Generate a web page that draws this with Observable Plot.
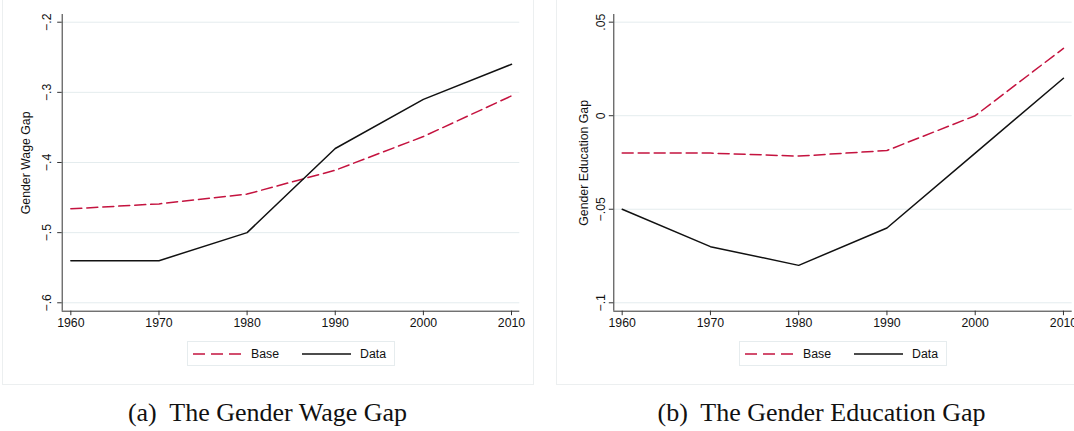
<!DOCTYPE html>
<html>
<head>
<meta charset="utf-8">
<script src="https://cdn.jsdelivr.net/npm/d3@7"></script>
<script src="https://cdn.jsdelivr.net/npm/@observablehq/plot@0.6"></script>
<style>
  html, body { margin: 0; padding: 0; background: #fff; }
  body { position: relative; width: 1074px; height: 431px; overflow: hidden; font-family: "Liberation Sans", Arial, sans-serif; }
  .panel { position: absolute; box-sizing: border-box; border: 1px solid #eceff0; }
  .chart { position: absolute; top: 0; width: 531px; height: 336px; }
  .chart svg { max-width: none !important; }
  .legend { position: absolute; box-sizing: border-box; border: 1px solid #e6ecee; width: 208px; height: 25px; top: 341px; }
  .legend svg { position: absolute; left: 0; top: 0; }
  .caption { position: absolute; top: 400px; width: 531px; text-align: center; font-family: "Liberation Serif", "Times New Roman", serif; font-size: 26px; line-height: 26px; color: #111; white-space: pre; }
</style>
</head>
<body>
<div class="panel" style="left:2px; top:-2px; width:532px; height:387px;"></div>
<div class="panel" style="left:556px; top:-2px; width:540px; height:387px;"></div>
<div id="chartA" class="chart" style="left:2px;"></div>
<div id="chartB" class="chart" style="left:556px;"></div>
<div id="legA" class="legend" style="left:187px;"></div>
<div id="legB" class="legend" style="left:739px;"></div>
<div class="caption" style="left:2px;">(a)  The Gender Wage Gap</div>
<div class="caption" style="left:556px;">(b)  The Gender Education Gap</div>
<script>
// ---- data ----
const years = [1960, 1970, 1980, 1990, 2000, 2010];
const wageBase = [-0.466, -0.459, -0.445, -0.411, -0.363, -0.305];
const wageData = [-0.54, -0.54, -0.50, -0.38, -0.31, -0.26];
const eduBase = [-0.020, -0.020, -0.0216, -0.0186, 0.0, 0.036];
const eduData = [-0.05, -0.07, -0.08, -0.06, -0.02, 0.02];
const wageTicks = [-0.6, -0.5, -0.4, -0.3, -0.2];
const eduTicks = [-0.1, -0.05, 0, 0.05];
const seriesNames = ["Base", "Data"];
const titleA = "Gender Wage Gap";
const titleB = "Gender Education Gap";

const RED = "#c4133f";
const BLACK = "#111111";
const GRID = "#e4ecee";
const AXIS = "#333333";

const stataFmt = d => {
  if (d === 0) return "0";
  const s = String(Math.abs(d)).replace(/^0\./, ".");
  return (d < 0 ? "\u2212" : "") + s;
};

function makeChart({base, data, ticks, yDomain, xDomain, title, marginLeft, marginRight, labelOffset, tickPadding}) {
  const rows = (vals, name) => years.map((yr, i) => ({year: yr, value: vals[i], series: name}));
  return Plot.plot({
    width: 531,
    height: 336,
    marginTop: 14,
    marginBottom: 25.3,
    marginLeft,
    marginRight,
    style: {fontFamily: "'Liberation Sans', Arial, sans-serif", fontSize: "12.3px", color: "#111", background: "transparent", overflow: "visible", maxWidth: "none"},
    x: {domain: xDomain, label: null},
    y: {domain: yDomain, label: null},
    marks: [
      Plot.gridY(ticks, {stroke: GRID, strokeOpacity: 1, strokeWidth: 1}),
      Plot.ruleX([xDomain[0]], {stroke: AXIS, strokeWidth: 1}),
      Plot.ruleY([yDomain[0]], {stroke: AXIS, strokeWidth: 1}),
      Plot.axisX({ticks: years, tickSize: 4.5, tickPadding: 3, tickFormat: d => String(d), label: null, stroke: AXIS}),
      Plot.axisY({ticks, tickSize: 4.5, tickRotate: -90, tickPadding, tickFormat: stataFmt, stroke: AXIS,
        label: title, labelAnchor: "center", labelOffset, labelArrow: "none"}),
      Plot.line(rows(base, seriesNames[0]), {x: "year", y: "value", stroke: RED, strokeWidth: 1.5, strokeDasharray: "11,5"}),
      Plot.line(rows(data, seriesNames[1]), {x: "year", y: "value", stroke: BLACK, strokeWidth: 1.5})
    ]
  });
}

document.getElementById("chartA").appendChild(makeChart({
  base: wageBase, data: wageData, ticks: wageTicks,
  yDomain: [-0.612, -0.189], xDomain: [1959.02, 2010.94],
  title: titleA, marginLeft: 59.7, marginRight: 13.7, labelOffset: 41, tickPadding: 7
}));
document.getElementById("chartB").appendChild(makeChart({
  base: eduBase, data: eduData, ticks: eduTicks,
  yDomain: [-0.1045, 0.0541], xDomain: [1959.05, 2010.99],
  title: titleB, marginLeft: 57.3, marginRight: 15.3, labelOffset: 35, tickPadding: 4
}));

function legend(el) {
  const ns = "http://www.w3.org/2000/svg";
  const svg = document.createElementNS(ns, "svg");
  svg.setAttribute("width", 208); svg.setAttribute("height", 25);
  const items = [
    {name: seriesNames[0], color: RED, dash: "12,6", x1: 5, x2: 54, tx: 63},
    {name: seriesNames[1], color: BLACK, dash: null, x1: 114, x2: 163, tx: 172}
  ];
  for (const it of items) {
    const l = document.createElementNS(ns, "line");
    l.setAttribute("x1", it.x1); l.setAttribute("x2", it.x2);
    l.setAttribute("y1", 12); l.setAttribute("y2", 12);
    l.setAttribute("stroke", it.color); l.setAttribute("stroke-width", 1.5);
    if (it.dash) l.setAttribute("stroke-dasharray", it.dash);
    svg.appendChild(l);
    const t = document.createElementNS(ns, "text");
    t.setAttribute("x", it.tx); t.setAttribute("y", 16.3);
    t.setAttribute("font-family", "'Liberation Sans', Arial, sans-serif");
    t.setAttribute("font-size", "12.3px"); t.setAttribute("fill", "#111");
    t.textContent = it.name;
    svg.appendChild(t);
  }
  el.appendChild(svg);
}
legend(document.getElementById("legA"));
legend(document.getElementById("legB"));
</script>
</body>
</html>
